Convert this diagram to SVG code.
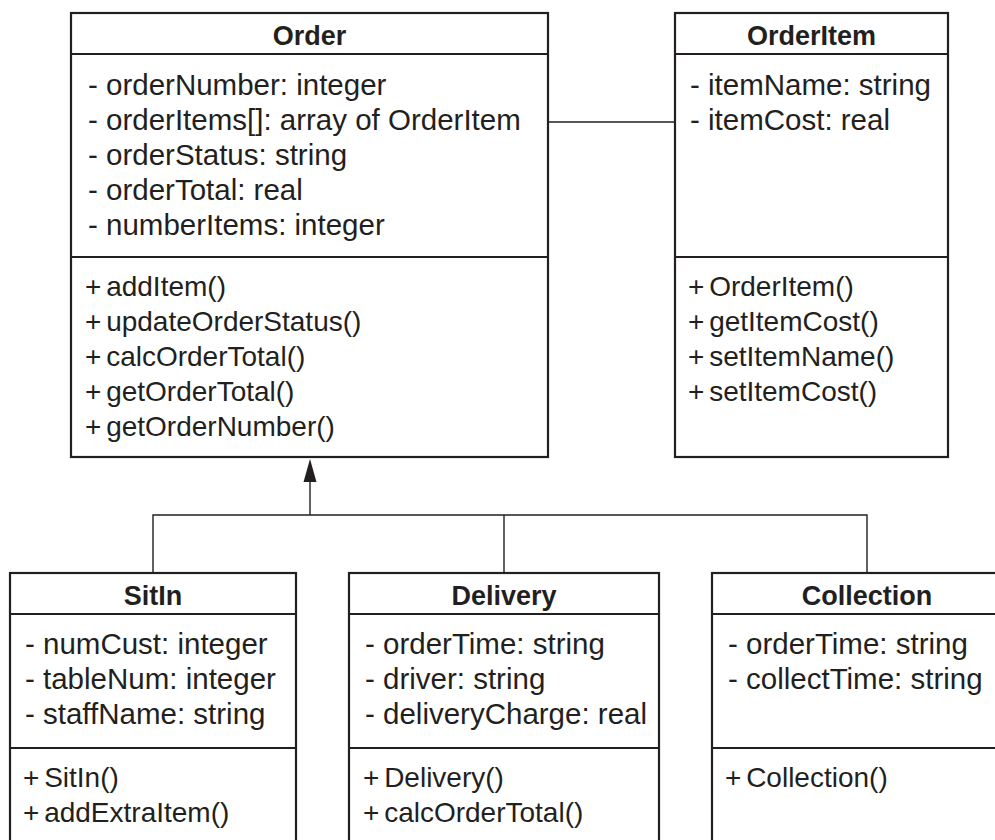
<svg xmlns="http://www.w3.org/2000/svg" width="995" height="840" viewBox="0 0 995 840">
<defs>
<style>
.box{fill:#fff;stroke:#231f20;stroke-width:2.2}
.div{stroke:#231f20;stroke-width:2.2}
.title{font-family:"Liberation Sans",Arial,sans-serif;font-weight:bold;font-size:27px;fill:#231f20;text-anchor:middle}
.attr{font-family:"Liberation Sans",Arial,sans-serif;font-size:29.5px;fill:#231f20}
.meth{font-family:"Liberation Sans",Arial,sans-serif;font-size:28px;fill:#231f20;word-spacing:-3px}
.conn{fill:none;stroke:#231f20;stroke-width:1.4}
.head{fill:#231f20}
</style>
</defs>
<rect width="995" height="840" fill="#fff"/>

<g id="connectors">
<line class="conn" x1="548" y1="122" x2="675" y2="122"/>
<line class="conn" x1="310" y1="482" x2="310" y2="515"/>
<polygon class="head" points="310,459 303.5,482 316.5,482"/>
<polyline class="conn" points="153,573 153,515 867,515 867,573"/>
<line class="conn" x1="504" y1="515" x2="504" y2="573"/>
</g>

<g id="Order">
<rect class="box" x="71" y="13" width="477" height="444"/>
<line class="div" x1="71" y1="54" x2="548" y2="54"/>
<line class="div" x1="71" y1="257" x2="548" y2="257"/>
<text class="title" x="309.5" y="45">Order</text>
<text class="attr" x="88" y="95">- orderNumber: integer</text>
<text class="attr" x="88" y="130">- orderItems[]: array of OrderItem</text>
<text class="attr" x="88" y="165">- orderStatus: string</text>
<text class="attr" x="88" y="200">- orderTotal: real</text>
<text class="attr" x="88" y="235">- numberItems: integer</text>
<text class="meth" x="85" y="296">+ addItem()</text>
<text class="meth" x="85" y="331">+ updateOrderStatus()</text>
<text class="meth" x="85" y="366">+ calcOrderTotal()</text>
<text class="meth" x="85" y="401">+ getOrderTotal()</text>
<text class="meth" x="85" y="436">+ getOrderNumber()</text>
</g>

<g id="OrderItem">
<rect class="box" x="675" y="13" width="273" height="444"/>
<line class="div" x1="675" y1="54" x2="948" y2="54"/>
<line class="div" x1="675" y1="257" x2="948" y2="257"/>
<text class="title" x="811.5" y="45">OrderItem</text>
<text class="attr" x="690" y="95">- itemName: string</text>
<text class="attr" x="690" y="130">- itemCost: real</text>
<text class="meth" x="688" y="296">+ OrderItem()</text>
<text class="meth" x="688" y="331">+ getItemCost()</text>
<text class="meth" x="688" y="366">+ setItemName()</text>
<text class="meth" x="688" y="401">+ setItemCost()</text>
</g>

<g id="SitIn">
<rect class="box" x="10" y="573" width="286" height="290"/>
<line class="div" x1="10" y1="614" x2="296" y2="614"/>
<line class="div" x1="10" y1="748" x2="296" y2="748"/>
<text class="title" x="153" y="605">SitIn</text>
<text class="attr" x="25" y="654">- numCust: integer</text>
<text class="attr" x="25" y="689">- tableNum: integer</text>
<text class="attr" x="25" y="724">- staffName: string</text>
<text class="meth" x="23" y="787">+ SitIn()</text>
<text class="meth" x="23" y="822">+ addExtraItem()</text>
</g>

<g id="Delivery">
<rect class="box" x="349" y="573" width="310" height="290"/>
<line class="div" x1="349" y1="614" x2="659" y2="614"/>
<line class="div" x1="349" y1="748" x2="659" y2="748"/>
<text class="title" x="504" y="605">Delivery</text>
<text class="attr" x="365" y="654">- orderTime: string</text>
<text class="attr" x="365" y="689">- driver: string</text>
<text class="attr" x="365" y="724">- deliveryCharge: real</text>
<text class="meth" x="363" y="787">+ Delivery()</text>
<text class="meth" x="363" y="822">+ calcOrderTotal()</text>
</g>

<g id="Collection">
<rect class="box" x="712" y="573" width="310" height="290"/>
<line class="div" x1="712" y1="614" x2="1022" y2="614"/>
<line class="div" x1="712" y1="748" x2="1022" y2="748"/>
<text class="title" x="867" y="605">Collection</text>
<text class="attr" x="728" y="654">- orderTime: string</text>
<text class="attr" x="728" y="689">- collectTime: string</text>
<text class="meth" x="725" y="787">+ Collection()</text>
</g>
</svg>
